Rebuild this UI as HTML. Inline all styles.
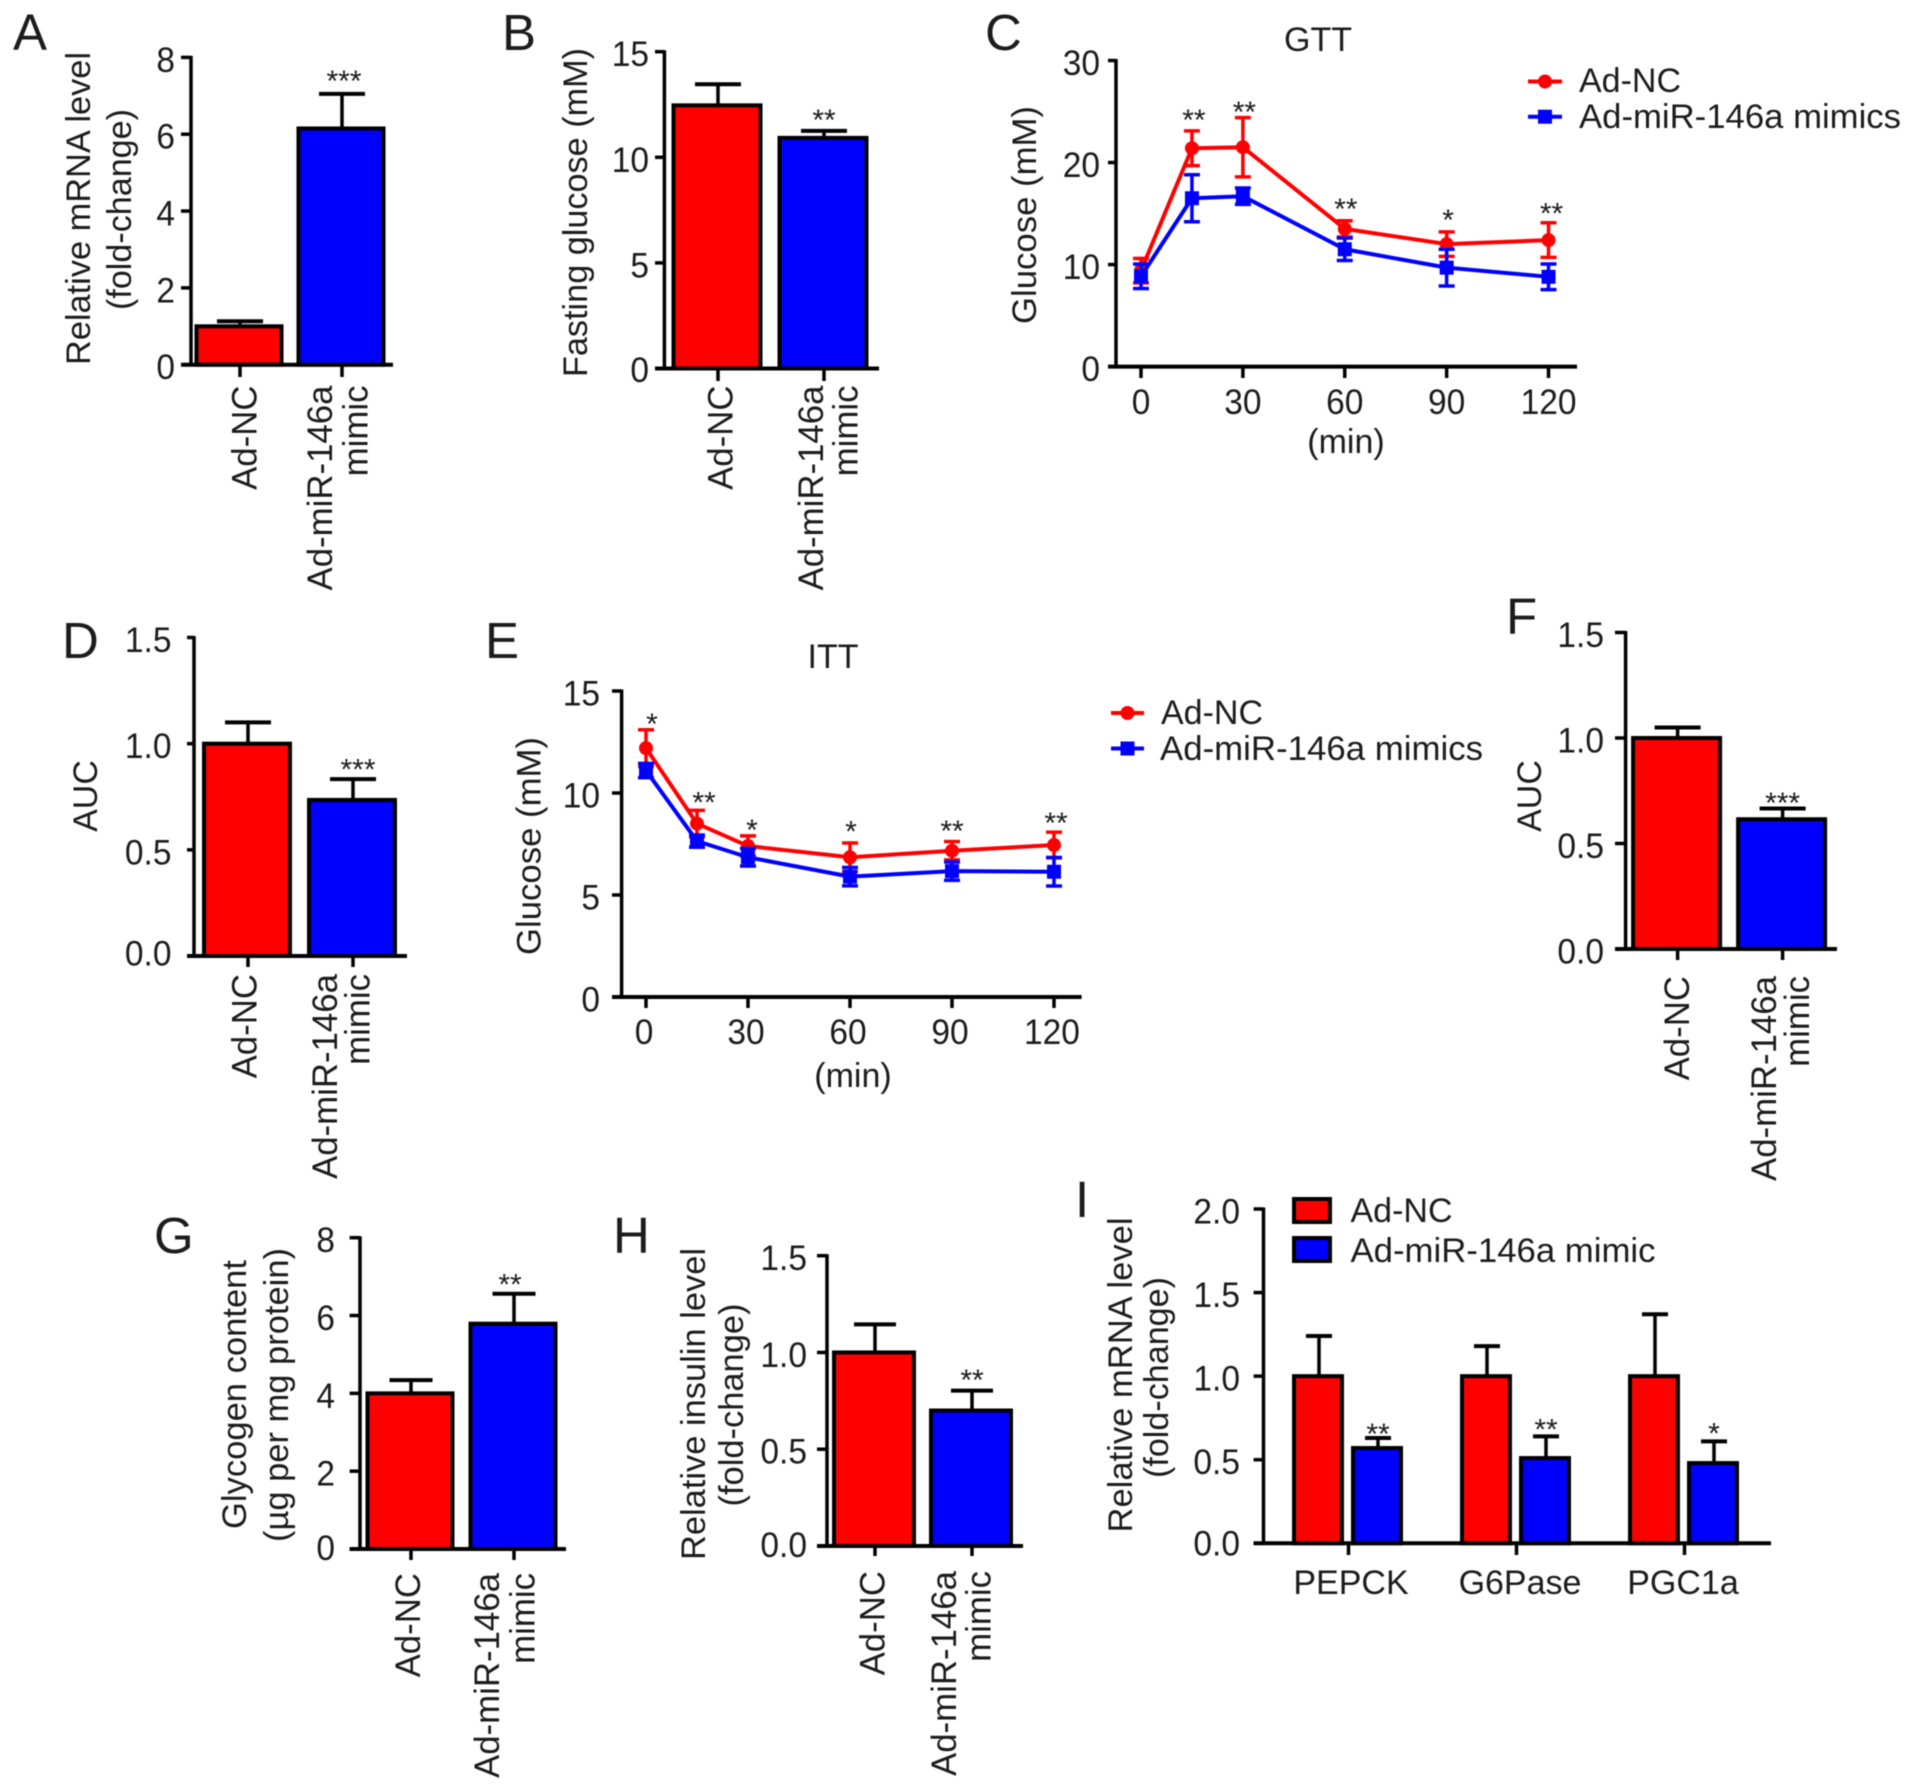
<!DOCTYPE html>
<html lang="en">
<head>
<meta charset="utf-8">
<title>Ad-miR-146a mimic metabolic panels</title>
<style>
  html, body { margin: 0; padding: 0; background: #fff; }
  svg { display: block; filter: blur(0.6px); }
  text { font-family: "Liberation Sans", sans-serif; fill: #1c1c1c; }
  .letter { font-size: 51px; }
  .title { font-size: 34px; }
  .cat { font-size: 34.8px; }
</style>
</head>
<body>
<svg id="figure" width="1913" height="1789" viewBox="0 0 1913 1789" xmlns="http://www.w3.org/2000/svg">
  <rect x="0" y="0" width="1913" height="1789" fill="#fff"/>

  <g id="panel-a">
    <text class="letter" x="13" y="50">A</text>
    <text class="title" transform="translate(90,208.5) rotate(-90)" text-anchor="middle" textLength="313" lengthAdjust="spacingAndGlyphs">Relative mRNA level</text>
    <text class="title" transform="translate(131,209.5) rotate(-90)" text-anchor="middle" textLength="201" lengthAdjust="spacingAndGlyphs">(fold-change)</text>
    <text class="cat" transform="translate(256.5,385.5) rotate(-90)" text-anchor="end">Ad-NC</text>
    <text class="cat" transform="translate(332,385.5) rotate(-90)" text-anchor="end">Ad-miR-146a</text>
    <text class="cat" transform="translate(367.5,385.5) rotate(-90)" text-anchor="end">mimic</text>
  </g>

  <g id="panel-b">
    <text class="letter" x="502" y="50">B</text>
    <text class="title" transform="translate(587,212.5) rotate(-90)" text-anchor="middle" textLength="329" lengthAdjust="spacingAndGlyphs">Fasting glucose (mM)</text>
    <text class="cat" transform="translate(732.5,385.5) rotate(-90)" text-anchor="end">Ad-NC</text>
    <text class="cat" transform="translate(823,385.5) rotate(-90)" text-anchor="end">Ad-miR-146a</text>
    <text class="cat" transform="translate(857.5,385.5) rotate(-90)" text-anchor="end">mimic</text>
  </g>

  <g id="panel-c">
    <text class="letter" x="985" y="50">C</text>
    <text class="title" x="1318" y="51" text-anchor="middle">GTT</text>
    <text class="title" transform="translate(1036,215) rotate(-90)" text-anchor="middle" textLength="218" lengthAdjust="spacingAndGlyphs">Glucose (mM)</text>
    <text class="title" x="1346" y="453" text-anchor="middle">(min)</text>
    <g>
      <line x1="1528" x2="1562" y1="81.5" y2="81.5" stroke="#f00" stroke-width="4"/>
      <circle cx="1545" cy="81.5" r="7" fill="#f00"/>
      <text class="title" x="1579" y="92">Ad-NC</text>
      <line x1="1528" x2="1562" y1="116.7" y2="116.7" stroke="#00f" stroke-width="4"/>
      <rect x="1538" y="109.7" width="14" height="14" fill="#00f"/>
      <text class="title" x="1579" y="128" textLength="322" lengthAdjust="spacingAndGlyphs">Ad-miR-146a mimics</text>
    </g>
  </g>

  <g id="panel-d">
    <text class="letter" x="62" y="658">D</text>
    <text class="title" transform="translate(97,796) rotate(-90)" text-anchor="middle">AUC</text>
    <text class="cat" transform="translate(256.5,974) rotate(-90)" text-anchor="end">Ad-NC</text>
    <text class="cat" transform="translate(337,974) rotate(-90)" text-anchor="end">Ad-miR-146a</text>
    <text class="cat" transform="translate(369.5,974) rotate(-90)" text-anchor="end">mimic</text>
  </g>

  <g id="panel-e">
    <text class="letter" x="485" y="658">E</text>
    <text class="title" x="833" y="668" text-anchor="middle">ITT</text>
    <text class="title" transform="translate(540.5,846) rotate(-90)" text-anchor="middle" textLength="218" lengthAdjust="spacingAndGlyphs">Glucose (mM)</text>
    <text class="title" x="853" y="1087" text-anchor="middle">(min)</text>
    <g>
      <line x1="1111" x2="1144" y1="713" y2="713" stroke="#f00" stroke-width="4"/>
      <circle cx="1127.5" cy="713" r="7" fill="#f00"/>
      <text class="title" x="1161" y="724">Ad-NC</text>
      <line x1="1111" x2="1144" y1="748.5" y2="748.5" stroke="#00f" stroke-width="4"/>
      <rect x="1120.5" y="741.5" width="14" height="14" fill="#00f"/>
      <text class="title" x="1160" y="760" textLength="323" lengthAdjust="spacingAndGlyphs">Ad-miR-146a mimics</text>
    </g>
  </g>

  <g id="panel-f">
    <text class="letter" x="1506" y="634">F</text>
    <text class="title" transform="translate(1541,796) rotate(-90)" text-anchor="middle">AUC</text>
    <text class="cat" transform="translate(1689,976) rotate(-90)" text-anchor="end">Ad-NC</text>
    <text class="cat" transform="translate(1776,976) rotate(-90)" text-anchor="end">Ad-miR-146a</text>
    <text class="cat" transform="translate(1809,976) rotate(-90)" text-anchor="end">mimic</text>
  </g>

  <g id="panel-g">
    <text class="letter" x="154" y="1253">G</text>
    <text class="title" transform="translate(246,1394.5) rotate(-90)" text-anchor="middle" textLength="269" lengthAdjust="spacingAndGlyphs">Glycogen content</text>
    <text class="title" transform="translate(288,1395) rotate(-90)" text-anchor="middle" textLength="294" lengthAdjust="spacingAndGlyphs">(µg per mg protein)</text>
    <text class="cat" transform="translate(420,1573) rotate(-90)" text-anchor="end">Ad-NC</text>
    <text class="cat" transform="translate(499,1573) rotate(-90)" text-anchor="end">Ad-miR-146a</text>
    <text class="cat" transform="translate(534.5,1573) rotate(-90)" text-anchor="end">mimic</text>
  </g>

  <g id="panel-h">
    <text class="letter" x="613" y="1253">H</text>
    <text class="title" transform="translate(705,1404) rotate(-90)" text-anchor="middle" textLength="312" lengthAdjust="spacingAndGlyphs">Relative insulin level</text>
    <text class="title" transform="translate(743,1405) rotate(-90)" text-anchor="middle" textLength="203" lengthAdjust="spacingAndGlyphs">(fold-change)</text>
    <text class="cat" transform="translate(884.5,1571) rotate(-90)" text-anchor="end">Ad-NC</text>
    <text class="cat" transform="translate(956,1571) rotate(-90)" text-anchor="end">Ad-miR-146a</text>
    <text class="cat" transform="translate(990.5,1571) rotate(-90)" text-anchor="end">mimic</text>
  </g>

  <g id="panel-i">
    <text class="letter" x="1075" y="1217">I</text>
    <text class="title" transform="translate(1132,1375) rotate(-90)" text-anchor="middle" textLength="315" lengthAdjust="spacingAndGlyphs">Relative mRNA level</text>
    <text class="title" transform="translate(1168,1377.5) rotate(-90)" text-anchor="middle" textLength="201" lengthAdjust="spacingAndGlyphs">(fold-change)</text>
    <text class="title" x="1351" y="1594" text-anchor="middle">PEPCK</text>
    <text class="title" x="1520" y="1594" text-anchor="middle">G6Pase</text>
    <text class="title" x="1683" y="1594" text-anchor="middle">PGC1a</text>
    <g>
      <rect x="1294" y="1199" width="36" height="23" fill="#f00" stroke="#000" stroke-width="4"/>
      <text class="title" x="1350.5" y="1222">Ad-NC</text>
      <rect x="1294" y="1238" width="36" height="23" fill="#00f" stroke="#000" stroke-width="4"/>
      <text class="title" x="1350.5" y="1262" textLength="305" lengthAdjust="spacingAndGlyphs">Ad-miR-146a mimic</text>
    </g>
  </g>
</svg>

<script>
// ---- Panel A ----
const aTicks = ['0', '2', '4', '6', '8'];
const aValues = [1.0, 6.15];
const aErrors = [0.13, 0.9];
const aStars = ['', '***'];
// ---- Panel B ----
const bTicks = ['0', '5', '10', '15'];
const bValues = [12.46, 10.92];
const bErrors = [1.0, 0.33];
const bStars = ['', '**'];
// ---- Panel D ----
const dTicks = ['0.0', '0.5', '1.0', '1.5'];
const dValues = [1.0, 0.735];
const dErrors = [0.1, 0.098];
const dStars = ['', '***'];
// ---- Panel F ----
const fTicks = ['0.0', '0.5', '1.0', '1.5'];
const fValues = [1.0, 0.615];
const fErrors = [0.05, 0.051];
const fStars = ['', '***'];
// ---- Panel G ----
const gTicks = ['0', '2', '4', '6', '8'];
const gValues = [4.0, 5.79];
const gErrors = [0.34, 0.77];
const gStars = ['', '**'];
// ---- Panel H ----
const hTicks = ['0.0', '0.5', '1.0', '1.5'];
const hValues = [1.0, 0.7];
const hErrors = [0.145, 0.103];
const hStars = ['', '**'];
// ---- Panel I ----
const iTicks = ['0.0', '0.5', '1.0', '1.5', '2.0'];
const iRedValues = [1.0, 1.0, 1.0];
const iRedErrors = [0.24, 0.18, 0.37];
const iBlueValues = [0.57, 0.51, 0.48];
const iBlueErrors = [0.06, 0.13, 0.13];
const iStars = ['**', '**', '*'];
// ---- Panel C (GTT) ----
const cTimes = [0, 15, 30, 60, 90, 120];
const cXTicks = [0, 30, 60, 90, 120];
const cYTicks = ['0', '10', '20', '30'];
const cRed = [9.4, 21.4, 21.5, 13.5, 12.0, 12.4];
const cRedErr = [1.2, 1.7, 2.9, 0.8, 1.2, 1.7];
const cBlue = [8.85, 16.5, 16.7, 11.5, 9.7, 8.8];
const cBlueErr = [1.2, 2.3, 0.8, 1.1, 1.8, 1.25];
const cStars = ['', '**', '**', '**', '*', '**'];
// ---- Panel E (ITT) ----
const eTimes = [0, 15, 30, 60, 90, 120];
const eXTicks = [0, 30, 60, 90, 120];
const eYTicks = ['0', '5', '10', '15'];
const eRed = [12.2, 8.5, 7.4, 6.85, 7.17, 7.45];
const eRedErr = [0.9, 0.65, 0.5, 0.7, 0.45, 0.63];
const eBlue = [11.1, 7.64, 6.85, 5.9, 6.17, 6.14];
const eBlueErr = [0.35, 0.3, 0.43, 0.45, 0.45, 0.7];
const eStars = ['*', '**', '*', '*', '**', '**'];

// ---- Layout (pixel geometry only) ----
const layoutA = { axisX: 191, yTop: 57.4, yBase: 364.7, tickLeft: 181, axisEnd: 393, labelX: 175, first: 240, step: 102, barW: 89, capW: 46, tickBottom: 377, starGap: 18, starDx: 2, zeroLift: 0 };
const layoutB = { axisX: 664.4, yTop: 51.7, yBase: 368.5, tickLeft: 655, axisEnd: 879, labelX: 649, first: 718, step: 106, barW: 91, capW: 46, tickBottom: 381, starGap: 16, starDx: 0, zeroLift: 1 };
const layoutD = { axisX: 194, yTop: 637.5, yBase: 956, tickLeft: 187, axisEnd: 407, labelX: 171.5, first: 248, step: 105, barW: 90, capW: 46, tickBottom: 967, starGap: 14.5, starDx: 5, zeroLift: 5 };
const layoutF = { axisX: 1625.6, yTop: 632.5, yBase: 949, tickLeft: 1615, axisEnd: 1837, labelX: 1604, first: 1677.6, step: 105, barW: 91, capW: 46, tickBottom: 960, starGap: 10.6, starDx: 0, zeroLift: 0 };
const layoutG = { axisX: 360, yTop: 1237.7, yBase: 1549, tickLeft: 349.6, axisEnd: 566, labelX: 335, first: 411, step: 103, barW: 89, capW: 43, tickBottom: 1560, starGap: 14, starDx: -4, zeroLift: 3.5 };
const layoutH = { axisX: 827, yTop: 1255.7, yBase: 1546, tickLeft: 817, axisEnd: 1023, labelX: 807, first: 875, step: 97, barW: 84, capW: 42, tickBottom: 1556, starGap: 15.5, starDx: 0, zeroLift: 3.5 };
const layoutI = { axisX: 1263.5, yTop: 1209, yBase: 1543.3, tickLeft: 1253.6, axisEnd: 1771, labelX: 1240, first: 1348.5, step: 168, barW: 52, barOffset: 29.5, capW: 26, tickBottom: 1555, starGaps: [9, 11.7, 12.7], starDx: 0, zeroLift: 2.5 };
const layoutC = { axisX: 1116, yTop: 60.5, yBase: 366.6, tickLeft: 1108, axisEnd: 1577, labelX: 1100, xStart: 1141, xPerMin: 3.396, xLabelY: 414, tickBottom: 378, labelDx: 0, starGaps: [0, 16, 10.6, 16.5, 16.8, 14], starDxs: [0, 2, 1.5, 1, 1.5, 3], zeroLift: 0 };
const layoutE = { axisX: 621.6, yTop: 691, yBase: 997, tickLeft: 612, axisEnd: 1081.6, labelX: 600, xStart: 646, xPerMin: 3.4, xLabelY: 1044, tickBottom: 1008, labelDx: -2, starGaps: [11, 13, 11, 16.4, 15.4, 14], starDxs: [6, 7, 4, 1, 0, 2], zeroLift: 0 };

const SVGNS = 'http://www.w3.org/2000/svg';
const RED = '#f00';
const BLUE = '#00f';
const TICK_FONT = 35.5;
const TICK_WIDTH_FONT = 33.5;
const BAR_SHIFT = -1;
const STAR_FONT = 30;

function mk(tag, attrs) {
  const el = document.createElementNS(SVGNS, tag);
  for (const k in attrs) el.setAttribute(k, attrs[k]);
  return el;
}
function tickTextLength(label) {
  let w = 0;
  for (const ch of label) w += (ch === '.' ? 0.278 : 0.556);
  return (w * TICK_WIDTH_FONT).toFixed(1);
}
function makeYScale(layout, ticks) {
  const top = parseFloat(ticks[ticks.length - 1]);
  return function (v) { return layout.yBase - (v / top) * (layout.yBase - layout.yTop); };
}
function drawAxes(root, id, layout, ticks, yScale, xTickPositions) {
  const yAxis = mk('line', { x1: layout.axisX, x2: layout.axisX, y1: layout.yTop - 1.5, y2: layout.yBase, stroke: '#000', 'stroke-width': 3.5 });
  
  
  root.appendChild(yAxis);
  const xAxis = mk('line', { x1: layout.tickLeft, x2: layout.axisEnd, y1: layout.yBase, y2: layout.yBase, stroke: '#000', 'stroke-width': 4 });
  
  
  root.appendChild(xAxis);
  ticks.forEach(function (label) {
    const value = parseFloat(label);
    const y = yScale(value);
    const t = mk('line', { x1: layout.tickLeft, x2: layout.axisX, y1: y, y2: y, stroke: '#000', 'stroke-width': 3.5 });
    
    
    root.appendChild(t);
    const lift = value === 0 ? layout.zeroLift : 0;
    const txt = mk('text', { x: layout.labelX, y: y + 14.5 - lift, 'text-anchor': 'end', 'font-size': TICK_FONT, textLength: tickTextLength(label), lengthAdjust: 'spacingAndGlyphs' });
    txt.textContent = label;
    
    
    root.appendChild(txt);
  });
  xTickPositions.forEach(function (x) {
    const t = mk('line', { x1: x, x2: x, y1: layout.yBase, y2: layout.tickBottom, stroke: '#000', 'stroke-width': 3.5 });
    
    
    root.appendChild(t);
  });
}
function drawBar(root, name, cx, layout, yScale, value, err, fill) {
  const topErr = yScale(value + err);
  const topBar = yScale(value);
  const stem = mk('line', { x1: cx, x2: cx, y1: topErr, y2: topBar, stroke: '#000', 'stroke-width': 3.5 });
  
  
  root.appendChild(stem);
  const cap = mk('line', { x1: cx - layout.capW / 2, x2: cx + layout.capW / 2, y1: topErr, y2: topErr, stroke: '#000', 'stroke-width': 4 });
  
  
  root.appendChild(cap);
  const bar = mk('rect', { x: cx + BAR_SHIFT - layout.barW / 2 + 2, y: topBar, width: layout.barW - 4, height: layout.yBase - topBar, fill: fill, stroke: '#000', 'stroke-width': 4 });
  
  
  root.appendChild(bar);
}
function drawStar(root, name, label, cx, cy) {
  if (!label) return;
  const s = mk('text', { x: cx, y: cy + STAR_FONT * 0.5, 'text-anchor': 'middle', 'font-size': STAR_FONT });
  s.textContent = label;
  
  
  s.setAttribute('fill', '#333');
  root.appendChild(s);
}
function drawBarPanel(id, layout, ticks, values, errors, stars) {
  const root = document.getElementById('panel-' + id);
  const yScale = makeYScale(layout, ticks);
  const band = function (i) { return layout.first + i * layout.step; };
  values.forEach(function (v, i) {
    drawBar(root, id + '-' + i, band(i), layout, yScale, v, errors[i], i === 0 ? RED : BLUE);
    drawStar(root, id + '-' + i, stars[i], band(i) + layout.starDx, yScale(v + errors[i]) - layout.starGap);
  });
  drawAxes(root, id, layout, ticks, yScale, values.map(function (v, i) { return band(i); }));
}
function drawGroupedPanel(id, layout, ticks, reds, redErrs, blues, blueErrs, stars) {
  const root = document.getElementById('panel-' + id);
  const yScale = makeYScale(layout, ticks);
  const band = function (i) { return layout.first + i * layout.step; };
  reds.forEach(function (v, i) {
    drawBar(root, id + '-red-' + i, band(i) - layout.barOffset, layout, yScale, v, redErrs[i], RED);
    drawBar(root, id + '-blue-' + i, band(i) + layout.barOffset, layout, yScale, blues[i], blueErrs[i], BLUE);
    drawStar(root, id + '-' + i, stars[i], band(i) + layout.barOffset + layout.starDx, yScale(blues[i] + blueErrs[i]) - layout.starGaps[i]);
  });
  drawAxes(root, id, layout, ticks, yScale, reds.map(function (v, i) { return band(i); }));
}
function drawSeries(root, name, times, means, errs, color, marker, xScale, yScale) {
  means.forEach(function (m, i) {
    const x = xScale(times[i]);
    const hi = yScale(m + errs[i]);
    const lo = yScale(m - errs[i]);
    const stem = mk('line', { x1: x, x2: x, y1: hi, y2: lo, stroke: color, 'stroke-width': 3.5 });
    
    
    root.appendChild(stem);
    [hi, lo].forEach(function (yy) {
      const cap = mk('line', { x1: x - 8, x2: x + 8, y1: yy, y2: yy, stroke: color, 'stroke-width': 3.5 });
      
      
      root.appendChild(cap);
    });
  });
  const pts = means.map(function (m, i) { return xScale(times[i]) + ',' + yScale(m); }).join(' ');
  const line = mk('polyline', { points: pts, fill: 'none', stroke: color, 'stroke-width': 4, 'stroke-linejoin': 'round' });
  
  
  root.appendChild(line);
  means.forEach(function (m, i) {
    const x = xScale(times[i]);
    const y = yScale(m);
    const p = marker === 'circle'
      ? mk('circle', { cx: x, cy: y, r: 7, fill: color })
      : mk('rect', { x: x - 7, y: y - 7, width: 14, height: 14, fill: color });
    
    
    root.appendChild(p);
  });
}
function drawLinePanel(id, layout, times, xTicks, yTicks, red, redErr, blue, blueErr, stars) {
  const root = document.getElementById('panel-' + id);
  const yScale = makeYScale(layout, yTicks);
  const xScale = function (t) { return layout.xStart + t * layout.xPerMin; };
  drawSeries(root, 'ad-nc-' + id, times, red, redErr, RED, 'circle', xScale, yScale);
  drawSeries(root, 'mimics-' + id, times, blue, blueErr, BLUE, 'square', xScale, yScale);
  drawAxes(root, id, layout, yTicks, yScale, xTicks.map(xScale));
  xTicks.forEach(function (t) {
    const label = String(t);
    const txt = mk('text', { x: xScale(t) + layout.labelDx, y: layout.xLabelY, 'text-anchor': 'middle', 'font-size': TICK_FONT, textLength: tickTextLength(label), lengthAdjust: 'spacingAndGlyphs' });
    txt.textContent = label;
    
    
    root.appendChild(txt);
  });
  stars.forEach(function (label, i) {
    drawStar(root, id + '-' + i, label, xScale(times[i]) + layout.starDxs[i], yScale(red[i] + redErr[i]) - layout.starGaps[i]);
  });
}

drawBarPanel('a', layoutA, aTicks, aValues, aErrors, aStars);
drawBarPanel('b', layoutB, bTicks, bValues, bErrors, bStars);
drawBarPanel('d', layoutD, dTicks, dValues, dErrors, dStars);
drawBarPanel('f', layoutF, fTicks, fValues, fErrors, fStars);
drawBarPanel('g', layoutG, gTicks, gValues, gErrors, gStars);
drawBarPanel('h', layoutH, hTicks, hValues, hErrors, hStars);
drawGroupedPanel('i', layoutI, iTicks, iRedValues, iRedErrors, iBlueValues, iBlueErrors, iStars);
drawLinePanel('c', layoutC, cTimes, cXTicks, cYTicks, cRed, cRedErr, cBlue, cBlueErr, cStars);
drawLinePanel('e', layoutE, eTimes, eXTicks, eYTicks, eRed, eRedErr, eBlue, eBlueErr, eStars);
</script>
</body>
</html>
